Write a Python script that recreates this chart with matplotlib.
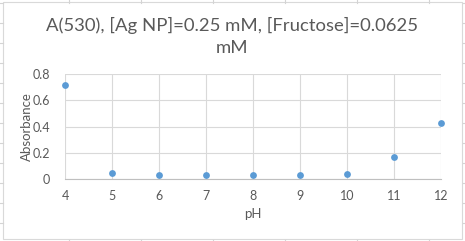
import matplotlib
matplotlib.use("Agg")
import matplotlib.pyplot as plt
from matplotlib.lines import Line2D
from matplotlib.patches import Rectangle

ph = [4, 5, 6, 7, 8, 9, 10, 11, 12]
absorbance = [0.716, 0.044, 0.028, 0.028, 0.028, 0.028, 0.036, 0.166, 0.426]
y_ticks = [0, 0.2, 0.4, 0.6, 0.8]
y_tick_labels = ["0", "0.2", "0.4", "0.6", "0.8"]
title_line1 = "A(530), [Ag NP]=0.25 mM, [Fructose]=0.0625"
title_line2 = "mM"

W, H = 465, 241
fig = plt.figure(figsize=(W / 100, H / 100), dpi=100)
fig.patch.set_facecolor("white")

FONT = "Lato"
TXT = "#595959"
GRID = "#d9d9d9"

def fx(px):
    return px / W

def fy(py):
    return 1 - py / H

# spreadsheet background grid lines (outside the chart area)
sheet = "#d4d4d4"
for x in [69, 141, 212.7, 285, 356.7, 428.5]:
    fig.add_artist(Line2D([fx(x), fx(x)], [fy(0), fy(2.5)], color=sheet, lw=0.8))
    fig.add_artist(Line2D([fx(x), fx(x)], [fy(239.5), fy(241)], color=sheet, lw=0.8))
for y in [3.3 + 20 * i for i in range(12)]:
    fig.add_artist(Line2D([fx(0), fx(2.5)], [fy(y), fy(y)], color=sheet, lw=0.8))
    fig.add_artist(Line2D([fx(462.5), fx(465)], [fy(y), fy(y)], color=sheet, lw=0.8))

# chart area border
fig.add_artist(Rectangle((fx(2.7), fy(239.3)), fx(462 - 2.7), (239.3 - 2) / H,
                         fill=False, edgecolor="#d9d9d9", lw=0.8))

ax_left, ax_right, ax_top, ax_bottom = 65.3, 441.3, 74.3, 179
ax = fig.add_axes([fx(ax_left), fy(ax_bottom), fx(ax_right - ax_left), (ax_bottom - ax_top) / H])
ax.set_facecolor("none")
ax.scatter(ph, absorbance, s=24, color="#5B9BD5", zorder=3, clip_on=False, linewidths=0)

ax.set_xlim(4, 12)
ax.set_ylim(0, 0.8)
ax.set_xticks(ph)
ax.set_xticklabels([str(v) for v in ph])
ax.set_yticks(y_ticks)
ax.set_yticklabels(y_tick_labels)
ax.grid(True, color=GRID, lw=0.8)
ax.set_axisbelow(True)
for s in ["top", "right", "left"]:
    ax.spines[s].set_visible(False)
ax.spines["bottom"].set_color("#bfbfbf")
ax.spines["bottom"].set_linewidth(0.8)
ax.tick_params(length=0, labelsize=9, labelcolor=TXT, pad=8)
ax.tick_params(axis="y", pad=11)
for lab in ax.get_xticklabels() + ax.get_yticklabels():
    lab.set_fontfamily(FONT)

ax.set_xlabel("pH", fontsize=9.5, color=TXT, fontfamily=FONT)
ax.set_ylabel("Absorbance", fontsize=9.5, color=TXT, fontfamily=FONT)
ax.yaxis.set_label_coords((27 - ax_left) / (ax_right - ax_left), 0.5)
ax.xaxis.set_label_coords(0.5, -(214 - ax_bottom) / (ax_bottom - ax_top))
ax.xaxis.label.set_va("center")
ax.yaxis.label.set_va("center")

fig.text(fx(232), fy(25), title_line1, ha="center", va="center",
         fontsize=13.3, color=TXT, fontfamily=FONT)
fig.text(fx(232), fy(48), title_line2, ha="center", va="center",
         fontsize=13.3, color=TXT, fontfamily=FONT)

fig.savefig("out.png", dpi=100, facecolor="white")
